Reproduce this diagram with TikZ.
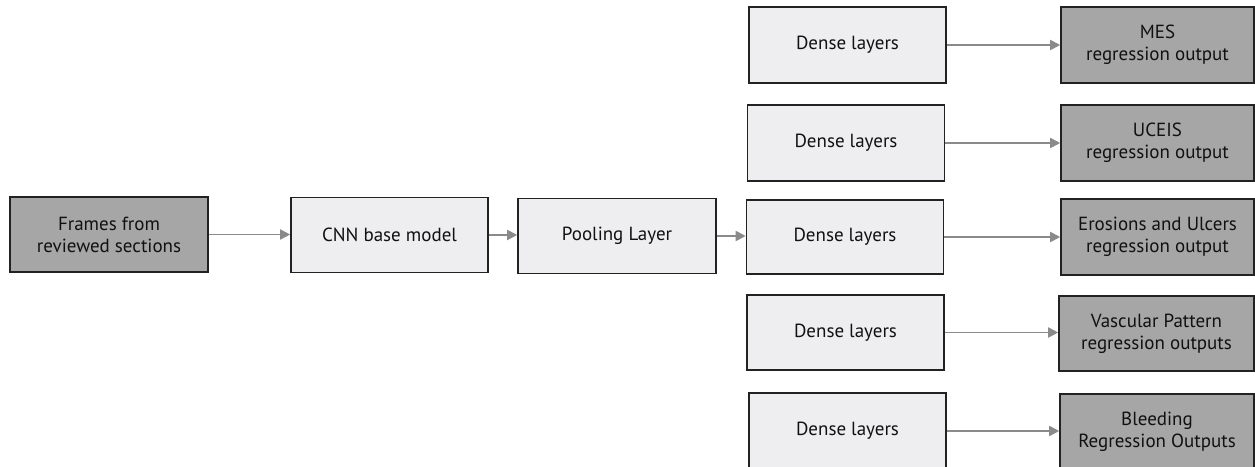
\documentclass[tikz,border=0pt]{standalone}
\usepackage{fontspec}
\setmainfont{PT Sans}
\usetikzlibrary{arrows.meta}
\definecolor{lightbox}{HTML}{EEEEF0}
\definecolor{darkbox}{HTML}{A6A6A6}
\definecolor{arrowgray}{HTML}{8A8A8A}
\definecolor{borderc}{HTML}{222222}
\definecolor{textc}{HTML}{111111}
\tikzset{
  lightnode/.style={draw=borderc, line width=1.6pt, fill=lightbox, text=textc, minimum width=#1, minimum height=75pt, align=center, inner sep=0pt, font=\fontsize{19}{22}\selectfont},
  lightnode/.default=197pt,
  darknode/.style={draw=borderc, line width=1.6pt, fill=darkbox, text=textc, minimum width=#1, minimum height=75pt, align=center, inner sep=0pt, font=\fontsize{19}{22}\selectfont},
  darknode/.default=193pt,
  conn/.style={draw=arrowgray, line width=1.8pt, -{Triangle[length=10pt,width=10pt]}}
}
\begin{document}
\begin{tikzpicture}[x=1pt,y=-1pt]
\clip (0,0) rectangle (1255,466);
\fill[white] (0,0) rectangle (1255,466);
\node[darknode=198pt] (frames) at (109,234.5) {Frames from\\reviewed sections};
\node[lightnode] (cnn) at (389.5,235) {CNN base model};
\node[lightnode=198pt] (pool) at (617,236) {Pooling Layer};
\node[lightnode, minimum height=76pt] (d1) at (847.5,45) {Dense layers};
\node[lightnode, minimum height=76pt] (d2) at (846,143) {Dense layers};
\node[lightnode, minimum height=74pt] (d3) at (845,237) {Dense layers};
\node[lightnode] (d4) at (845.5,332.5) {Dense layers};
\node[lightnode, minimum height=76pt] (d5) at (847.5,431) {Dense layers};
\node[darknode, minimum height=76pt] (o1) at (1157.5,45) {MES\\regression output};
\node[darknode, minimum height=76pt] (o2) at (1157.5,143) {UCEIS\\regression output};
\node[darknode, minimum height=76pt] (o3) at (1157.5,237) {Erosions and Ulcers\\regression output};
\node[darknode=195pt] (o4) at (1156.5,333.5) {Vascular Pattern\\regression outputs};
\node[darknode=194pt, minimum height=76pt] (o5) at (1157,432) {Bleeding\\Regression Outputs};
\draw[conn] (frames.east) -- (frames.east -| cnn.west);
\draw[conn] (cnn.east) -- (cnn.east -| pool.west);
\draw[conn] (pool.east) -- (pool.east -| d3.west);
\draw[conn] (d1.east) -- (d1.east -| o1.west);
\draw[conn] (d2.east) -- (d2.east -| o2.west);
\draw[conn] (d3.east) -- (d3.east -| o3.west);
\draw[conn] (d4.east) -- (d4.east -| o4.west);
\draw[conn] (d5.east) -- (d5.east -| o5.west);
\end{tikzpicture}
\end{document}
